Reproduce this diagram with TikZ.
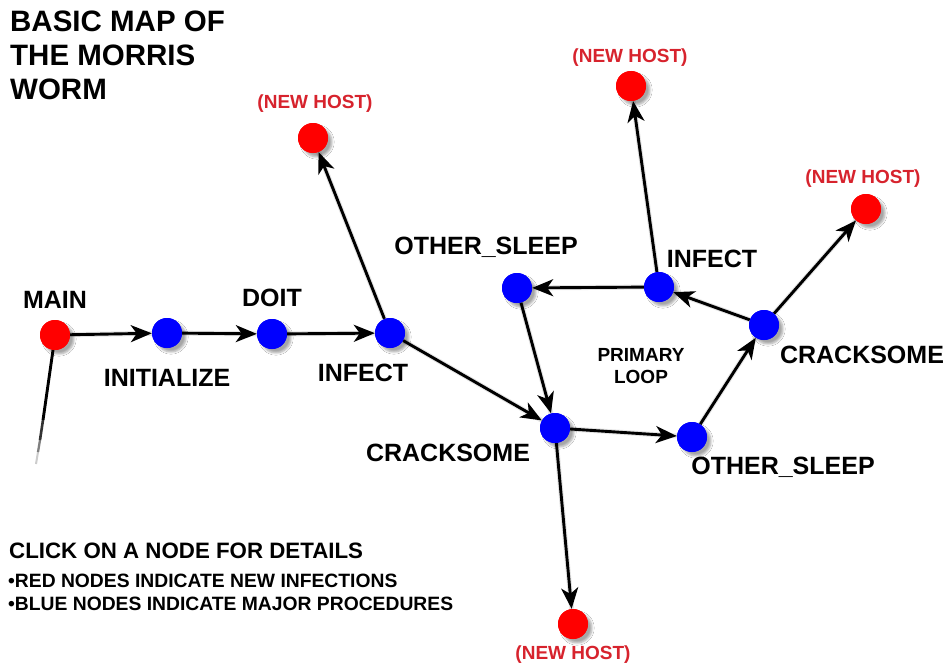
\documentclass[tikz,border=0pt]{standalone}
\usepackage{fontspec}
\setmainfont{Liberation Sans}
\usetikzlibrary{arrows.meta,shadows.blur}
\definecolor{hostred}{RGB}{215,35,45}
\definecolor{nodered}{RGB}{255,0,0}
\definecolor{nodeblue}{RGB}{0,0,255}
\tikzset{
  dotnode/.style={circle, minimum size=30pt, inner sep=0pt,
    blur shadow={shadow xshift=4pt, shadow yshift=-4pt, shadow blur steps=6, shadow opacity=35}},
  rednode/.style={dotnode, fill=nodered},
  bluenode/.style={dotnode, fill=nodeblue},
  lbl/.style={font=\fontsize{25}{29}\selectfont\bfseries, text=black, inner sep=0pt},
  hostlbl/.style={font=\fontsize{19}{22}\selectfont\bfseries, text=hostred, inner sep=0pt},
  conn/.style={line width=2.9pt, draw=black, -{Stealth[length=21pt,width=17pt,inset=6pt]}},
  shad/.style={line width=5pt, draw=black, opacity=0.10},
}
\begin{document}
\begin{tikzpicture}[x=1pt,y=-1pt]
\useasboundingbox[fill=white] (0,0) rectangle (949,666);

% title
\node[anchor=north west, align=left, inner sep=0pt, font=\fontsize{29.5}{34}\selectfont\bfseries] (title) at (10,11) {BASIC MAP OF\\THE MORRIS\\WORM};

% nodes
\node[rednode] (main) at (55,335) {};
\node[bluenode] (init) at (167,333) {};
\node[bluenode] (doit) at (272,334) {};
\node[bluenode] (inf1) at (390,333) {};
\node[rednode] (nh1) at (313,138) {};
\node[bluenode] (cr1) at (555,428) {};
\node[rednode] (nhb) at (573,624) {};
\node[bluenode] (os1) at (692,437) {};
\node[bluenode] (cr2) at (764,325) {};
\node[rednode] (nhr) at (866,209) {};
\node[bluenode] (inf2) at (659,287) {};
\node[rednode] (nht) at (631,86) {};
\node[bluenode] (os2) at (517,288) {};

% labels
\node[lbl] (lmain) at (55,300) {MAIN};
\node[lbl] (linit) at (167,378) {INITIALIZE};
\node[lbl] (ldoit) at (272,298) {DOIT};
\node[lbl] (linf1) at (363,373) {INFECT};
\node[hostlbl] (lnh1) at (315,104) {(NEW HOST)};
\node[lbl] (lcr1) at (448,453) {CRACKSOME};
\node[hostlbl] (lnhb) at (573,655) {(NEW HOST)};
\node[lbl] (los1) at (783,467) {OTHER\_SLEEP};
\node[lbl] (lcr2) at (862,355) {CRACKSOME};
\node[hostlbl] (lnhr) at (863,179) {(NEW HOST)};
\node[lbl] (linf2) at (712,259) {INFECT};
\node[hostlbl] (lnht) at (630,58) {(NEW HOST)};
\node[lbl] (los2) at (486,247) {OTHER\_SLEEP};
\node[align=center, inner sep=0pt, font=\fontsize{19}{22}\selectfont\bfseries] (loop) at (641,366) {PRIMARY\\LOOP};

% legend
\node[anchor=west, inner sep=0pt, font=\fontsize{22.3}{26}\selectfont\bfseries] (click) at (9,551) {CLICK ON A NODE FOR DETAILS};
\node[anchor=north west, align=left, inner sep=0pt, font=\fontsize{19.3}{23}\selectfont\bfseries] (legend) at (8,574) {•RED NODES INDICATE NEW INFECTIONS\\•BLUE NODES INDICATE MAJOR PROCEDURES};

% fading tail from MAIN
\coordinate (t0) at (53,350);
\coordinate (t1) at (43,420);
\coordinate (t2) at (40,440);
\coordinate (t3) at (38,452);
\coordinate (t4) at (36,464);
\draw[line width=2.9pt] (t0) -- (t1);
\draw[line width=2.6pt, opacity=0.8] (t1) -- (t2);
\draw[line width=2.3pt, opacity=0.5] (t2) -- (t3);
\draw[line width=2pt, opacity=0.2] (t3) -- (t4);

% connector shadows
\begin{scope}[shift={(4,4)}]
\foreach \a/\b in {main/init,init/doit,doit/inf1,inf1/nh1,inf1/cr1,cr1/nhb,cr1/os1,os1/cr2,cr2/nhr,cr2/inf2,inf2/nht,inf2/os2,os2/cr1}
  \draw[shad] (\a) -- (\b);
\end{scope}

% connectors
\draw[conn] (main) -- (init);
\draw[conn] (init) -- (doit);
\draw[conn] (doit) -- (inf1);
\draw[conn] (inf1) -- (nh1);
\draw[conn] (inf1) -- (cr1);
\draw[conn] (cr1) -- (nhb);
\draw[conn] (cr1) -- (os1);
\draw[conn] (os1) -- (cr2);
\draw[conn] (cr2) -- (nhr);
\draw[conn] (cr2) -- (inf2);
\draw[conn] (inf2) -- (nht);
\draw[conn] (inf2) -- (os2);
\draw[conn] (os2) -- (cr1);

% redraw nodes on top
\foreach \n in {main,nh1,nhb,nhr,nht}
  \fill[nodered] (\n) circle (15pt);
\foreach \n in {init,doit,inf1,cr1,os1,cr2,inf2,os2}
  \fill[nodeblue] (\n) circle (15pt);
\end{tikzpicture}
\end{document}
